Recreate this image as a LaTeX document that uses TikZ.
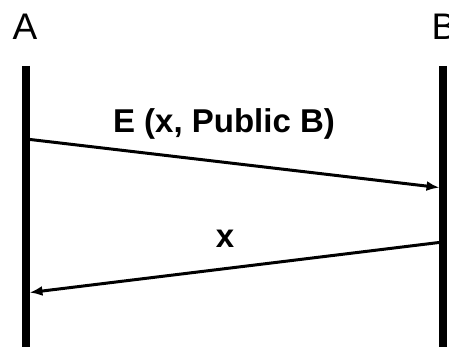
\documentclass[tikz,border=0pt]{standalone}
\usepackage{fontspec}
\setmainfont{Liberation Sans}
\usetikzlibrary{arrows.meta}
\begin{document}
\begin{tikzpicture}[
        x=1pt, y=-1pt,
        party/.style={inner sep=0pt, font=\fontsize{37}{40}\selectfont},
        lifeline/.style={line width=7.5pt},
        msg/.style={-{Latex[length=13pt,width=10pt]}, line width=3pt, shorten >=3.5pt, shorten <=3.5pt},
        msglabel/.style={inner sep=0pt, font=\fontsize{33}{36}\selectfont\bfseries},
        >=latex
    ]
        \useasboundingbox (0,0) rectangle (449,347);

        % Parties
        \node[party] (A) at (25,27) {A};
        \node[party] (B) at (444,27) {B};

        % Lifelines
        \coordinate (Atop) at (26,66);
        \coordinate (Abot) at (26,347);
        \coordinate (Btop) at (443,66);
        \coordinate (Bbot) at (443,347);
        \draw[lifeline] (Atop) -- (Abot);
        \draw[lifeline] (Btop) -- (Bbot);

        % Messages
        \coordinate (m1s) at (26,139);
        \coordinate (m1e) at (443,188);
        \coordinate (m2s) at (443,242);
        \coordinate (m2e) at (26,293);
        \draw[msg] (m1s) -- (m1e);
        \draw[msg] (m2s) -- (m2e);

        \node[msglabel] (L1) at (224,124) {E (x, Public B)};
        \node[msglabel] (L2) at (225,239) {x};
    \end{tikzpicture}
\end{document}
